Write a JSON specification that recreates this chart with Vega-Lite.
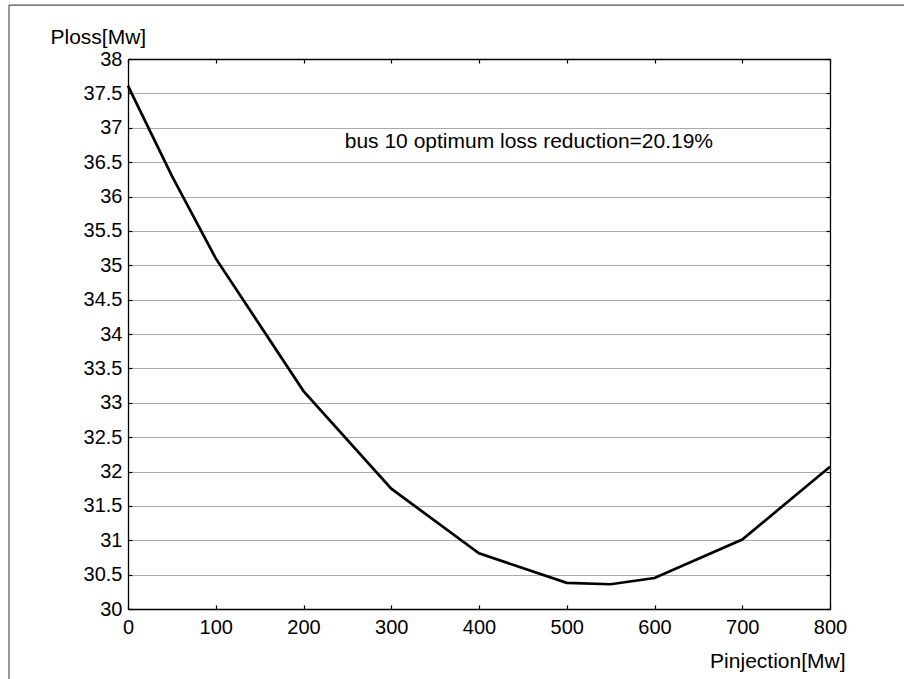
{
  "$schema": "https://vega.github.io/schema/vega-lite/v6.json",
  "width": 702,
  "height": 550,
  "autosize": "none",
  "padding": {"left": 128, "top": 59, "right": 74, "bottom": 70},
  "background": "white",
  "config": {
    "font": "Liberation Sans",
    "view": {"stroke": null},
    "axis": {
      "domainColor": "black",
      "domainWidth": 1.3,
      "tickColor": "black",
      "tickSize": -4,
      "tickWidth": 1.2,
      "labelColor": "black",
      "labelFont": "Liberation Sans",
      "labelFontSize": 20,
      "titleFont": "Liberation Sans",
      "titleFontSize": 21,
      "titleFontWeight": "normal",
      "titleColor": "black"
    }
  },
  "datasets": {
    "curve": [
      {"p": 0, "loss": 37.61},
      {"p": 50, "loss": 36.3},
      {"p": 100, "loss": 35.1},
      {"p": 200, "loss": 33.17},
      {"p": 300, "loss": 31.75},
      {"p": 400, "loss": 30.81},
      {"p": 500, "loss": 30.38},
      {"p": 550, "loss": 30.36},
      {"p": 600, "loss": 30.45},
      {"p": 700, "loss": 31.01},
      {"p": 800, "loss": 32.07}
    ],
    "note": [
      {"p": 247, "loss": 36.71, "label": "bus 10 optimum loss reduction=20.19%"}
    ],
    "frame": [
      {"p": -135.6, "p2": -135.6, "loss": 38.785, "loss2": 27},
      {"p": -135.6, "p2": 1000, "loss": 38.785, "loss2": 38.785}
    ]
  },
  "resolve": {"axis": {"x": "independent", "y": "independent"}},
  "layer": [
    {
      "data": {"name": "curve"},
      "mark": {"type": "line", "color": "black", "strokeWidth": 2.7},
      "encoding": {
        "x": {
          "field": "p", "type": "quantitative",
          "scale": {"domain": [0, 800], "nice": false, "zero": false},
          "axis": {
            "orient": "bottom",
            "values": [0, 100, 200, 300, 400, 500, 600, 700, 800],
            "grid": false,
            "labelPadding": 12,
            "labelFlush": false,
            "title": "Pinjection[Mw]",
            "titleAnchor": "start",
            "titleAlign": "right",
            "titleBaseline": "alphabetic",
            "titleX": 717,
            "titleY": 58
          }
        },
        "y": {
          "field": "loss", "type": "quantitative",
          "scale": {"domain": [30, 38], "nice": false, "zero": false},
          "axis": {
            "orient": "left",
            "values": [30, 30.5, 31, 31.5, 32, 32.5, 33, 33.5, 34, 34.5, 35, 35.5, 36, 36.5, 37, 37.5, 38],
            "format": "~g",
            "grid": true,
            "gridColor": "#555555",
            "gridDash": [1, 1],
            "gridWidth": 1,
            "labelPadding": 10,
            "labelFlush": false,
            "title": "Ploss[Mw]",
            "titleAngle": 0,
            "titleAlign": "left",
            "titleBaseline": "alphabetic",
            "titleX": -78,
            "titleY": -16
          }
        }
      }
    },
    {
      "data": {"name": "curve"},
      "mark": {"type": "line", "strokeOpacity": 0},
      "encoding": {
        "x": {
          "field": "p", "type": "quantitative",
          "axis": {
            "orient": "top",
            "values": [0, 100, 200, 300, 400, 500, 600, 700, 800],
            "labels": false,
            "grid": false,
            "title": null
          }
        },
        "y": {
          "field": "loss", "type": "quantitative",
          "axis": {
            "orient": "right",
            "values": [30, 30.5, 31, 31.5, 32, 32.5, 33, 33.5, 34, 34.5, 35, 35.5, 36, 36.5, 37, 37.5, 38],
            "labels": false,
            "grid": false,
            "title": null
          }
        }
      }
    },
    {
      "data": {"name": "note"},
      "mark": {"type": "text", "align": "left", "baseline": "alphabetic", "fontSize": 21, "font": "Liberation Sans", "color": "black"},
      "encoding": {
        "x": {"field": "p", "type": "quantitative", "axis": null},
        "y": {"field": "loss", "type": "quantitative", "axis": null},
        "text": {"field": "label"}
      }
    },
    {
      "data": {"name": "frame"},
      "mark": {"type": "rule", "color": "#555555", "strokeWidth": 1.2},
      "encoding": {
        "x": {"field": "p", "type": "quantitative", "axis": null},
        "x2": {"field": "p2"},
        "y": {"field": "loss", "type": "quantitative", "axis": null},
        "y2": {"field": "loss2"}
      }
    }
  ]
}
